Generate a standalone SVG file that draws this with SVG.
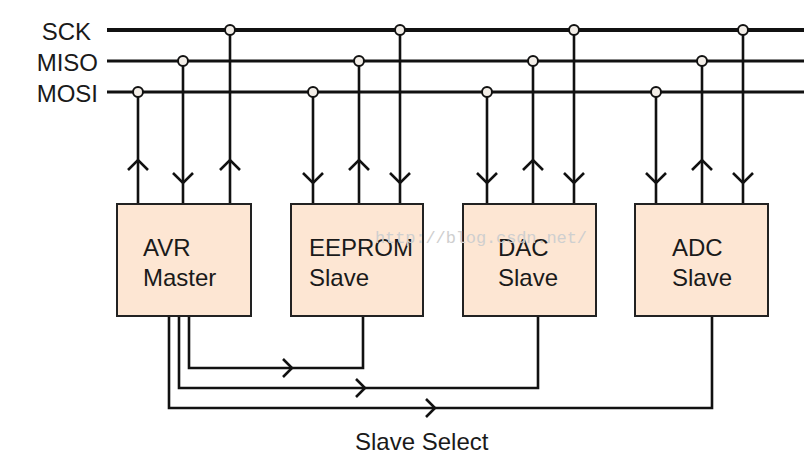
<svg xmlns="http://www.w3.org/2000/svg" width="804" height="462" viewBox="0 0 804 462">
<style>
.bus{stroke:#111;fill:none}
.w{stroke:#111;stroke-width:2.6;fill:none}
.ah{stroke:#111;stroke-width:2.6;fill:none;stroke-linejoin:miter}
.dot{fill:#f3eee8;stroke:#111;stroke-width:2}
.box{fill:#fde6d3;stroke:#222;stroke-width:2}
.t{font-family:"Liberation Sans",Arial,sans-serif;font-size:24px;fill:#1a1a1a}
.wm{font-family:"Liberation Mono","Courier New",monospace;font-size:17px;fill:#cfcfcf}
</style>
<rect width="804" height="462" fill="#fff"/>
<g id="bus-labels">
<text class="t" x="91" y="40" text-anchor="end">SCK</text>
<text class="t" x="98" y="71" text-anchor="end">MISO</text>
<text class="t" x="98" y="102" text-anchor="end">MOSI</text>
</g>
<g id="connectors">
<line class="bus" x1="107" y1="30" x2="804" y2="30" stroke-width="4"/>
<line class="bus" x1="107" y1="61" x2="804" y2="61" stroke-width="3"/>
<line class="bus" x1="107" y1="92" x2="804" y2="92" stroke-width="3"/>
<!-- AVR -->
<path class="w" d="M138 92V204M183 61V204M230 30V204"/>
<path class="ah" d="M128 170L138 160L148 170M173 173L183 183L193 173M220 170L230 160L240 170"/>
<!-- EEPROM -->
<path class="w" d="M313 92V204M359 61V204M400 30V204"/>
<path class="ah" d="M303 173L313 183L323 173M349 170L359 160L369 170M390 173L400 183L410 173"/>
<!-- DAC -->
<path class="w" d="M487 92V204M533 61V204M574 30V204"/>
<path class="ah" d="M477 173L487 183L497 173M523 170L533 160L543 170M564 173L574 183L584 173"/>
<!-- ADC -->
<path class="w" d="M656 92V204M702 61V204M743 30V204"/>
<path class="ah" d="M646 173L656 183L666 173M692 170L702 160L712 170M733 173L743 183L753 173"/>
<!-- junction dots -->
<circle class="dot" cx="138" cy="92" r="5"/><circle class="dot" cx="183" cy="61" r="5"/><circle class="dot" cx="230" cy="30" r="5"/>
<circle class="dot" cx="313" cy="92" r="5"/><circle class="dot" cx="359" cy="61" r="5"/><circle class="dot" cx="400" cy="30" r="5"/>
<circle class="dot" cx="487" cy="92" r="5"/><circle class="dot" cx="533" cy="61" r="5"/><circle class="dot" cx="574" cy="30" r="5"/>
<circle class="dot" cx="656" cy="92" r="5"/><circle class="dot" cx="702" cy="61" r="5"/><circle class="dot" cx="743" cy="30" r="5"/>
<!-- slave select -->
<path class="w" d="M189 316V368H363V316"/>
<path class="w" d="M179 316V388H538V316"/>
<path class="w" d="M169 316V408H712V316"/>
<path class="ah" d="M283 359L292 368L283 377M356 379L365 388L356 397M426 399L435 408L426 417"/>
</g>
<g id="avr-master">
<rect class="box" x="117" y="204" width="134" height="112"/>
<text class="t" x="143" y="256">AVR</text>
<text class="t" x="143" y="286">Master</text>
</g>
<g id="eeprom-slave">
<rect class="box" x="291" y="204" width="132" height="112"/>
<text class="t" x="309" y="256">EEPROM</text>
<text class="t" x="309" y="286">Slave</text>
</g>
<g id="dac-slave">
<rect class="box" x="463" y="204" width="133" height="112"/>
<text class="t" x="498" y="256">DAC</text>
<text class="t" x="498" y="286">Slave</text>
</g>
<g id="adc-slave">
<rect class="box" x="635" y="204" width="133" height="112"/>
<text class="t" x="672" y="256">ADC</text>
<text class="t" x="672" y="286">Slave</text>
</g>
<text class="wm" x="375" y="243" textLength="212" lengthAdjust="spacing">http://blog.csdn.net/</text>
<g id="caption">
<text class="t" x="355" y="450">Slave Select</text>
</g>
</svg>
